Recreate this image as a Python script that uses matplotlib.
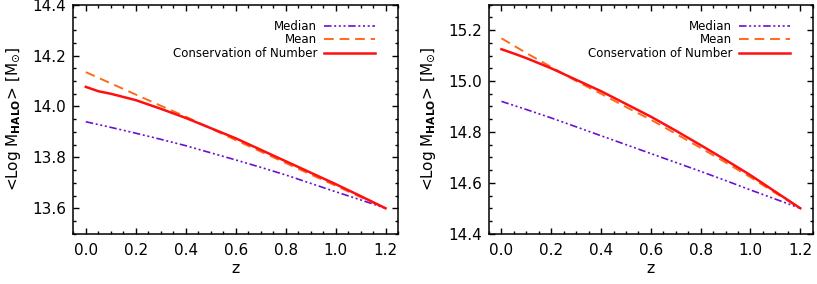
import matplotlib
matplotlib.use("Agg")
import matplotlib.pyplot as plt
from matplotlib.ticker import MultipleLocator

plt.rcParams['font.family'] = ['DejaVu Sans']
plt.rcParams['mathtext.fontset'] = 'dejavusans'

# ---- data ----
z = [0.0, 0.05, 0.1, 0.2, 0.3, 0.4, 0.5, 0.6, 0.7, 0.8, 0.9, 1.0, 1.1, 1.2]

left_median = [13.940, 13.929, 13.918, 13.895, 13.871, 13.846, 13.818, 13.790, 13.761, 13.731, 13.698, 13.665, 13.633, 13.600]
left_mean   = [14.135, 14.113, 14.091, 14.047, 14.003, 13.960, 13.914, 13.868, 13.823, 13.778, 13.733, 13.689, 13.644, 13.600]
left_cons   = [14.077, 14.060, 14.050, 14.025, 13.991, 13.955, 13.915, 13.875, 13.830, 13.785, 13.740, 13.695, 13.648, 13.600]

right_median = [14.920, 14.904, 14.888, 14.855, 14.820, 14.785, 14.750, 14.715, 14.680, 14.645, 14.609, 14.572, 14.536, 14.500]
right_mean   = [15.168, 15.139, 15.110, 15.055, 15.000, 14.950, 14.898, 14.848, 14.793, 14.737, 14.680, 14.622, 14.560, 14.500]
right_cons   = [15.125, 15.108, 15.090, 15.050, 15.005, 14.960, 14.910, 14.860, 14.805, 14.748, 14.690, 14.630, 14.565, 14.500]

left_ylim = (13.5, 14.4)
right_ylim = (14.4, 15.3)
xlim = (-0.05, 1.25)
xticks = [0.0, 0.2, 0.4, 0.6, 0.8, 1.0, 1.2]
left_yticks = [13.6, 13.8, 14.0, 14.2, 14.4]
right_yticks = [14.4, 14.6, 14.8, 15.0, 15.2]

labels = ['Median', 'Mean', 'Conservation of Number']
colors = ['#6a10d0', '#ff6a1a', '#ff1010']

fig = plt.figure(figsize=(8.17, 2.84), dpi=100)
ax1 = fig.add_axes([73.3/817, 1-233.7/284, 324.7/817, 229/284])
ax2 = fig.add_axes([489/817, 1-233.7/284, 323.7/817, 229/284])

median_style = (0, (4.5, 1.6, 1.2, 1.6, 1.2, 1.6, 1.2, 1.6))
mean_style = (0, (5, 3))

for ax, med, mean, cons, ylim, yticks in [
        (ax1, left_median, left_mean, left_cons, left_ylim, left_yticks),
        (ax2, right_median, right_mean, right_cons, right_ylim, right_yticks)]:
    ax.plot(z, med, color=colors[0], lw=1.2, linestyle=median_style, label=labels[0])
    ax.plot(z, mean, color=colors[1], lw=1.4, linestyle=mean_style, label=labels[1])
    ax.plot(z, cons, color=colors[2], lw=1.8, linestyle='-', label=labels[2])
    ax.set_xlim(*xlim)
    ax.set_ylim(*ylim)
    ax.set_xticks(xticks)
    ax.set_yticks(yticks)
    ax.xaxis.set_minor_locator(MultipleLocator(0.05))
    ax.yaxis.set_minor_locator(MultipleLocator(0.05))
    ax.set_xticklabels(['%.1f' % v for v in xticks], fontsize=11)
    ax.set_yticklabels(['%.1f' % v for v in yticks], fontsize=11)
    ax.tick_params(which='both', direction='in', top=True, right=True, width=1.0)
    ax.tick_params(axis='x', which='major', length=4.0, pad=7)
    ax.tick_params(axis='x', which='minor', length=2.4)
    ax.tick_params(axis='y', which='major', length=4.6, pad=5)
    ax.tick_params(axis='y', which='minor', length=2.4)
    for s in ax.spines.values():
        s.set_linewidth(1.1)
    ax.set_xlabel('z', fontsize=11.5, labelpad=2)
    ax.set_ylabel(r'<Log M$_{\mathbf{HALO}}$> [M$_{\odot}$]', fontsize=11, labelpad=7)
    leg = ax.legend(loc='upper right', frameon=False, markerfirst=False,
                    fontsize=8.5, handlelength=4.3, handletextpad=0.6,
                    labelspacing=0.05, borderaxespad=0.3,
                    bbox_to_anchor=(0.955, 0.97))

fig.savefig('out.png', dpi=100)
